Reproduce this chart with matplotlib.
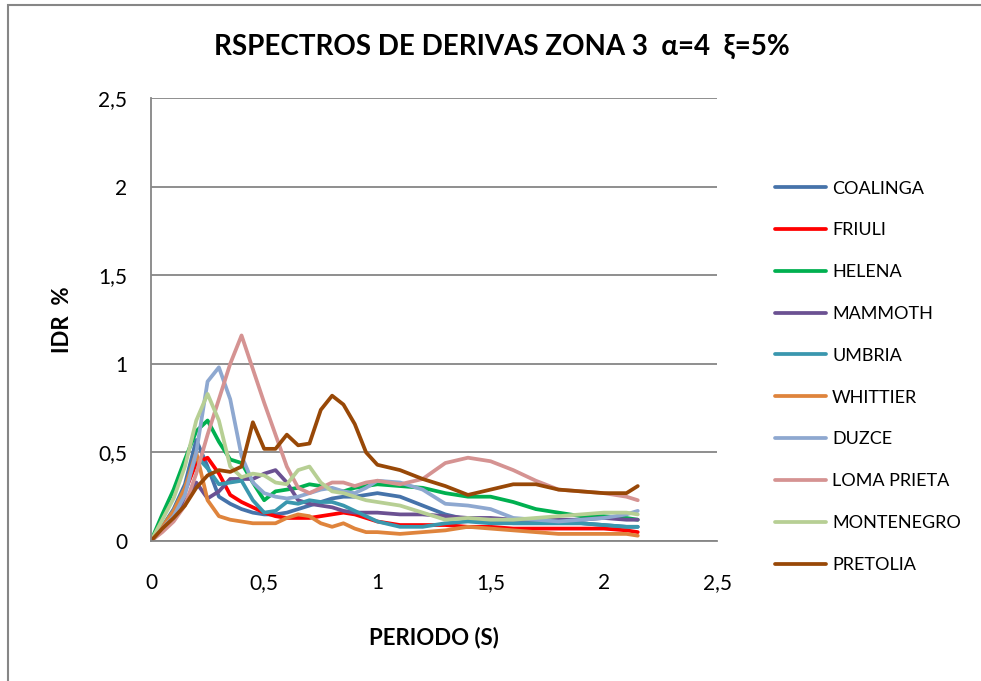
import matplotlib.pyplot as plt
from matplotlib.patches import Rectangle
from matplotlib.ticker import FuncFormatter

plt.rcParams['font.family'] = ['Lato', 'DejaVu Sans']

# Periodo (s)
periodo = [0, .05, .1, .15, .2, .25, .3, .35, .4, .45, .5, .55, .6, .65, .7, .75,
           .8, .85, .9, .95, 1.0, 1.1, 1.2, 1.3, 1.4, 1.5, 1.6, 1.7, 1.8, 1.9,
           2.0, 2.1, 2.15]

# deriva (IDR %) por registro
coalinga = [0, .08, .18, .32, .57, .42, .25, .21, .18, .16, .15, .15, .16, .18, .20, .22,
            .24, .25, .25, .26, .27, .25, .20, .15, .12, .11, .10, .10, .10, .10,
            .09, .08, .08]
friuli = [0, .07, .16, .28, .44, .47, .38, .26, .22, .19, .16, .14, .13, .13, .13, .14,
          .15, .16, .15, .13, .11, .09, .09, .09, .08, .08, .07, .07, .07, .07,
          .07, .06, .05]
helena = [0, .15, .29, .46, .62, .68, .56, .46, .44, .33, .23, .28, .29, .30, .32, .31,
          .29, .28, .30, .31, .32, .31, .30, .27, .25, .25, .22, .18, .16, .14,
          .14, .13, .12]
mammoth = [0, .06, .12, .22, .33, .24, .28, .35, .35, .35, .38, .40, .33, .23, .21, .20,
           .19, .17, .16, .16, .16, .15, .15, .14, .13, .13, .12, .12, .12, .12,
           .13, .12, .12]
umbria = [0, .08, .17, .30, .48, .41, .32, .33, .34, .23, .16, .17, .22, .21, .23, .22,
          .22, .20, .17, .14, .11, .08, .08, .10, .11, .10, .10, .10, .10, .10,
          .09, .08, .08]
whittier = [0, .08, .17, .30, .50, .23, .14, .12, .11, .10, .10, .10, .13, .15, .14, .10,
            .08, .10, .07, .05, .05, .04, .05, .06, .08, .07, .06, .05, .04, .04,
            .04, .04, .03]
duzce = [0, .07, .14, .26, .50, .90, .98, .80, .48, .33, .27, .25, .24, .25, .27, .29,
         .30, .28, .27, .30, .34, .33, .29, .21, .20, .18, .13, .12, .11, .12,
         .13, .15, .17]
loma_prieta = [0, .05, .11, .20, .38, .60, .80, 1.0, 1.16, .97, .78, .60, .42, .30, .27, .30,
               .33, .33, .31, .33, .34, .32, .35, .44, .47, .45, .40, .34, .29, .28,
               .27, .25, .23]
montenegro = [0, .12, .24, .42, .68, .83, .68, .42, .36, .38, .37, .33, .32, .40, .42, .33,
              .28, .27, .25, .23, .22, .20, .16, .12, .13, .12, .12, .13, .14, .15,
              .16, .16, .15]
pretolia = [0, .07, .13, .20, .30, .37, .40, .39, .42, .67, .52, .52, .60, .54, .55, .74,
            .82, .77, .66, .50, .43, .40, .35, .31, .26, .29, .32, .32, .29, .28,
            .27, .27, .31]

series = [
    ('COALINGA', coalinga, '#4673AA'),
    ('FRIULI', friuli, '#FF0000'),
    ('HELENA', helena, '#00B050'),
    ('MAMMOTH', mammoth, '#6B5192'),
    ('UMBRIA', umbria, '#3A97AE'),
    ('WHITTIER', whittier, '#DF843C'),
    ('DUZCE', duzce, '#8EA8D0'),
    ('LOMA PRIETA', loma_prieta, '#D59392'),
    ('MONTENEGRO', montenegro, '#B7CF94'),
    ('PRETOLIA', pretolia, '#984807'),
]

fig = plt.figure(figsize=(9.81, 6.81), dpi=100)
ax = fig.add_axes([0.1539, 0.2056, 0.577, 0.6505])

for name, vals, col in series:
    ax.plot(periodo, vals, color=col, lw=2.7, label=name,
            solid_joinstyle='round', solid_capstyle='round')

ax.set_xlim(0, 2.5)
ax.set_ylim(0, 2.5)
ticks = [0, 0.5, 1, 1.5, 2, 2.5]
ax.set_xticks(ticks)
ax.set_yticks(ticks)
comma = FuncFormatter(lambda v, p: f'{v:g}'.replace('.', ','))
ax.xaxis.set_major_formatter(comma)
ax.yaxis.set_major_formatter(comma)
ax.tick_params(axis='both', length=0, labelsize=15, colors='black')
ax.tick_params(axis='x', pad=23)
ax.tick_params(axis='y', pad=17)

ax.grid(axis='y', color='#868686', lw=1.3)
ax.set_axisbelow(True)
for s in ['top', 'right']:
    ax.spines[s].set_visible(False)
for s in ['left', 'bottom']:
    ax.spines[s].set_color('#868686')
    ax.spines[s].set_linewidth(1.3)

ax.set_xlabel('PERIODO (S)', fontsize=16, fontweight='bold', labelpad=24)
ax.set_ylabel('IDR  %', fontsize=16, fontweight='bold', labelpad=18)

fig.text(0.512, 0.931, 'RSPECTROS DE DERIVAS ZONA 3  α=4  ξ=5%',
         ha='center', va='center', fontsize=20, fontweight='bold')

ax.legend(loc='upper left', bbox_to_anchor=(1.09, 0.83), frameon=False,
          fontsize=13, handlelength=2.8, handletextpad=0.35, labelspacing=1.43,
          borderaxespad=0)

# chart border
fig.patches.append(Rectangle((8 / 981, -0.1), 1.2, 1 - 5 / 681 + 0.1,
                             transform=fig.transFigure, fill=False,
                             edgecolor='#868686', lw=1.5))

fig.savefig('out.png', dpi=100)
